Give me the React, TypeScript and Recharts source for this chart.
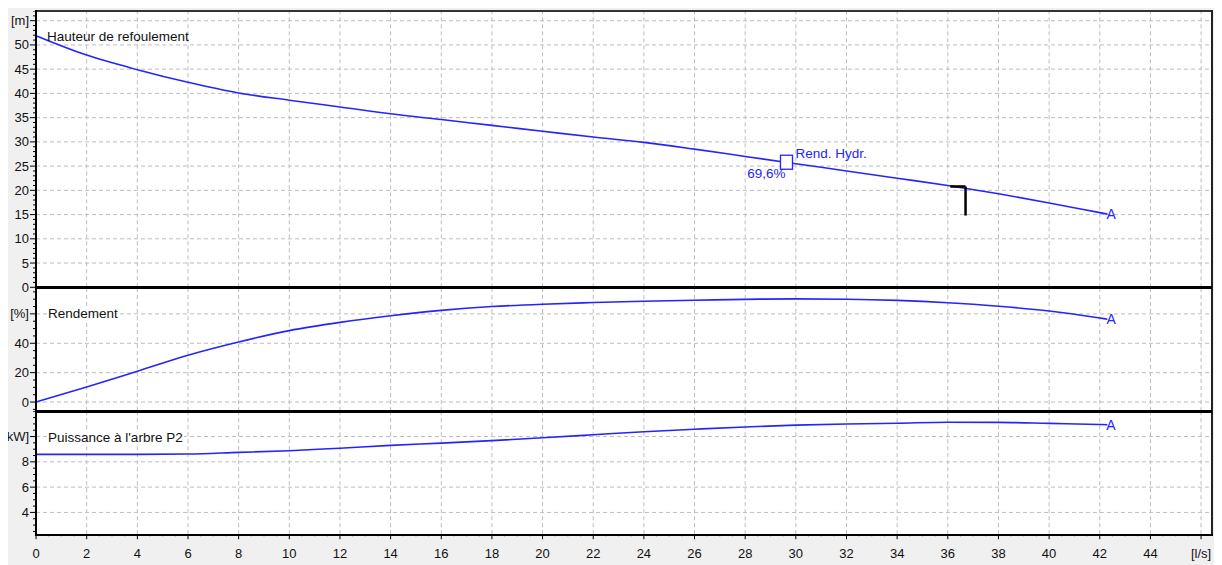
import React from 'react';
import { LineChart, Line, XAxis, YAxis, ReferenceLine, ReferenceDot } from 'recharts';

// ---------- data ----------
const flow = [0, 2, 4, 6, 8, 10, 12, 14, 16, 18, 20, 22, 24, 26, 28, 30, 32, 34, 36, 38, 40, 42, 42.3];
const head = [51.9, 47.9, 44.9, 42.3, 40.1, 38.6, 37.2, 35.8, 34.6, 33.4, 32.2, 31.0, 29.9, 28.5, 27.0, 25.5, 24.0, 22.5, 21.0, 19.3, 17.4, 15.4, 15.1];
const efficiency = [0, 10.2, 21.0, 31.9, 40.9, 48.6, 54.2, 58.7, 62.4, 65.0, 66.6, 67.7, 68.6, 69.3, 69.9, 70.2, 70.0, 69.2, 67.6, 65.2, 62.0, 57.2, 56.4];
const power = [8.59, 8.59, 8.59, 8.62, 8.75, 8.88, 9.08, 9.3, 9.48, 9.68, 9.9, 10.14, 10.38, 10.58, 10.76, 10.9, 10.99, 11.05, 11.13, 11.12, 11.04, 10.95, 10.93];

const flowTicks = [0, 2, 4, 6, 8, 10, 12, 14, 16, 18, 20, 22, 24, 26, 28, 30, 32, 34, 36, 38, 40, 42, 44, 46];
const flowTickLabels = ['0', '2', '4', '6', '8', '10', '12', '14', '16', '18', '20', '22', '24', '26', '28', '30', '32', '34', '36', '38', '40', '42', '44', '[l/s]'];
const headTicks = [0, 5, 10, 15, 20, 25, 30, 35, 40, 45, 50, 55];
const headTickLabels = ['0', '5', '10', '15', '20', '25', '30', '35', '40', '45', '50', '[m]'];
const effTicks = [0, 20, 40, 60];
const effTickLabels = ['0', '20', '40', '[%]'];
const powerTicks = [4, 6, 8, 10];
const powerTickLabels = ['4', '6', '8', 'kW]'];

const headTitle = 'Hauteur de refoulement';
const effTitle = 'Rendement';
const powerTitle = "Puissance à l'arbre P2";
const endLabel = 'A';

const bepFlow = 29.63;
const bepHead = 25.8;
const bepLabel = 'Rend. Hydr.';
const bepValue = '69,6%';

const dutyFlowStart = 36.1;
const dutyFlow = 36.7;
const dutyHead = 20.8;
const dutyHeadLow = 14.8;

// ---------- helpers ----------
const range = (a: number, b: number, s: number) => {
  const out: number[] = [];
  for (let v = a; v <= b + 1e-9; v += s) out.push(Math.round(v * 1000) / 1000);
  return out;
};

const data = flow.map((q, i) => ({ q, head: head[i], eff: efficiency[i], power: power[i] }));
const last = data[data.length - 1];

const FONT = '"Liberation Sans", Arial, sans-serif';
const FS = 13.5;
const BLUE = '#2424ff';
const GRID = '#bdbdbd';
const X_DOMAIN: [number, number] = [0, 46.43];

const yTick = (majors: number[], labels: string[]) => (props: any) => {
  const { x, y, payload } = props;
  const idx = majors.findIndex((m) => Math.abs(m - payload.value) < 1e-6);
  const major = idx >= 0;
  return (
    <g>
      <line x1={x - (major ? 6 : 3)} x2={x} y1={y} y2={y} stroke="#000" strokeWidth={1} />
      {major && (
        <text x={x - 7} y={y} textAnchor="end" dominantBaseline="central" fontSize={13} fill="#111" fontFamily={FONT}>
          {labels[idx]}
        </text>
      )}
    </g>
  );
};

const xTick = (props: any) => {
  const { x, y, payload } = props;
  const idx = flowTicks.findIndex((m) => Math.abs(m - payload.value) < 1e-6);
  const major = idx >= 0;
  return (
    <g>
      <line x1={x} x2={x} y1={y} y2={y + (major ? 5 : 2)} stroke="#000" strokeWidth={1} />
      {major && (
        <text x={x} y={y + 19} textAnchor="middle" dominantBaseline="central" fontSize={13} fill="#111" fontFamily={FONT}>
          {flowTickLabels[idx]}
        </text>
      )}
    </g>
  );
};

const vGrid = flowTicks.filter((v) => v > 0).map((v) => (
  <ReferenceLine key={'vx' + v} x={v} stroke={GRID} strokeDasharray="4 3" />
));
const hGrid = (vals: number[]) =>
  vals.map((v) => <ReferenceLine key={'hy' + v} y={v} stroke={GRID} strokeDasharray="4 3" />);

const endDot = (val: number) => (
  <ReferenceDot
    x={last.q}
    y={val}
    r={1}
    fill="transparent"
    stroke="none"
    label={{ value: endLabel, position: 'right', offset: -2, fill: BLUE, fontSize: 14, fontFamily: FONT }}
  />
);

const W = 1214;
const MARGIN = { top: 0, right: 10, bottom: 0, left: 0 };

const P1 = { top: 3, h: 276.3 };
const P2 = { top: 279.3, h: 124 };
const P3 = { top: 403.3, h: 123.2 };

const titleStyle = (left: number, top: number, bg: boolean): React.CSSProperties => ({
  position: 'absolute',
  left,
  top,
  fontSize: FS,
  lineHeight: '15px',
  fontFamily: FONT,
  color: '#111',
  background: bg ? '#fff' : 'transparent',
  padding: '0 1px',
  whiteSpace: 'nowrap',
});

export default function App() {
  return (
    <div style={{ position: 'relative', width: W, height: 557, background: '#f0f0f0', overflow: 'hidden', fontFamily: FONT }}>
      <div style={{ position: 'absolute', left: 28, top: 3, width: 1176, height: 523.5, background: '#fff' }} />

      {/* Panel 1: head */}
      <div style={{ position: 'absolute', left: 0, top: P1.top }}>
        <LineChart width={W} height={P1.h + 10} data={data} margin={{ ...MARGIN, bottom: 10 }}>
          <XAxis type="number" dataKey="q" domain={X_DOMAIN} hide />
          <YAxis
            type="number"
            domain={[0, 57]}
            width={28}
            ticks={range(0, 57, 1)}
            interval={0}
            tickSize={0}
            tickMargin={0}
            axisLine={false}
            tickLine={false}
            tick={yTick(headTicks, headTickLabels)}
          />
          {vGrid}
          {hGrid(headTicks.filter((v) => v > 0))}
          <Line type="monotone" dataKey="head" stroke={BLUE} strokeWidth={1.6} dot={false} isAnimationActive={false} />
          <ReferenceLine segment={[{ x: dutyFlowStart, y: dutyHead }, { x: dutyFlow, y: dutyHead }]} stroke="#000" strokeWidth={2.5} />
          <ReferenceLine segment={[{ x: dutyFlow, y: dutyHead }, { x: dutyFlow, y: dutyHeadLow }]} stroke="#000" strokeWidth={2.5} />
          <ReferenceDot
            x={bepFlow}
            y={bepHead}
            r={6}
            shape={(p: any) => (
              <g>
                <rect x={p.cx - 6} y={p.cy - 7} width={12} height={14} fill="#fff" stroke={BLUE} strokeWidth={1.3} />
                <text x={p.cx + 9} y={p.cy - 9} dominantBaseline="central" fontSize={FS} fill={BLUE} fontFamily={FONT}>
                  {bepLabel}
                </text>
                <text x={p.cx - 1} y={p.cy + 11} textAnchor="end" dominantBaseline="central" fontSize={FS} fill={BLUE} fontFamily={FONT}>
                  {bepValue}
                </text>
              </g>
            )}
          />
          {endDot(last.head)}
        </LineChart>
      </div>

      {/* Panel 2: efficiency */}
      <div style={{ position: 'absolute', left: 0, top: P2.top }}>
        <LineChart width={W} height={P2.h} data={data} margin={MARGIN}>
          <XAxis type="number" dataKey="q" domain={X_DOMAIN} hide />
          <YAxis
            type="number"
            domain={[-6.1, 78.3]}
            width={28}
            ticks={range(-5, 75, 5)}
            interval={0}
            tickSize={0}
            tickMargin={0}
            axisLine={false}
            tickLine={false}
            tick={yTick(effTicks, effTickLabels)}
          />
          {vGrid}
          {hGrid(effTicks)}
          <Line type="monotone" dataKey="eff" stroke={BLUE} strokeWidth={1.6} dot={false} isAnimationActive={false} />
          {endDot(last.eff)}
        </LineChart>
      </div>

      {/* Panel 3: power */}
      <div style={{ position: 'absolute', left: 0, top: P3.top }}>
        <LineChart width={W} height={P3.h + 30} data={data} margin={MARGIN}>
          <XAxis
            type="number"
            dataKey="q"
            domain={X_DOMAIN}
            height={30}
            ticks={range(0, 46, 0.5)}
            interval={0}
            tickSize={0}
            tickMargin={0}
            axisLine={false}
            tickLine={false}
            tick={xTick}
          />
          <YAxis
            type="number"
            domain={[2.28, 12.02]}
            width={28}
            ticks={range(2.5, 12, 0.5)}
            interval={0}
            tickSize={0}
            tickMargin={0}
            axisLine={false}
            tickLine={false}
            tick={yTick(powerTicks, powerTickLabels)}
          />
          {vGrid}
          {hGrid(powerTicks)}
          <Line type="monotone" dataKey="power" stroke={BLUE} strokeWidth={1.6} dot={false} isAnimationActive={false} />
          {endDot(last.power)}
        </LineChart>
      </div>

      {/* frame and separators */}
      <div style={{ position: 'absolute', left: 28, top: 2, width: 1176, height: 2, background: '#333' }} />
      <div style={{ position: 'absolute', left: 27, top: 2, width: 2, height: 525.5, background: '#000' }} />
      <div style={{ position: 'absolute', left: 1203, top: 2, width: 2, height: 525.5, background: '#222' }} />
      <div style={{ position: 'absolute', left: 28, top: 277.8, width: 1176, height: 3, background: '#000' }} />
      <div style={{ position: 'absolute', left: 28, top: 401.8, width: 1176, height: 3, background: '#000' }} />
      <div style={{ position: 'absolute', left: 27, top: 525.5, width: 1178, height: 2, background: '#000' }} />

      <div style={titleStyle(38, 20.5, false)}>{headTitle}</div>
      <div style={titleStyle(39, 297.5, true)}>{effTitle}</div>
      <div style={titleStyle(39, 421.5, true)}>{powerTitle}</div>
    </div>
  );
}
